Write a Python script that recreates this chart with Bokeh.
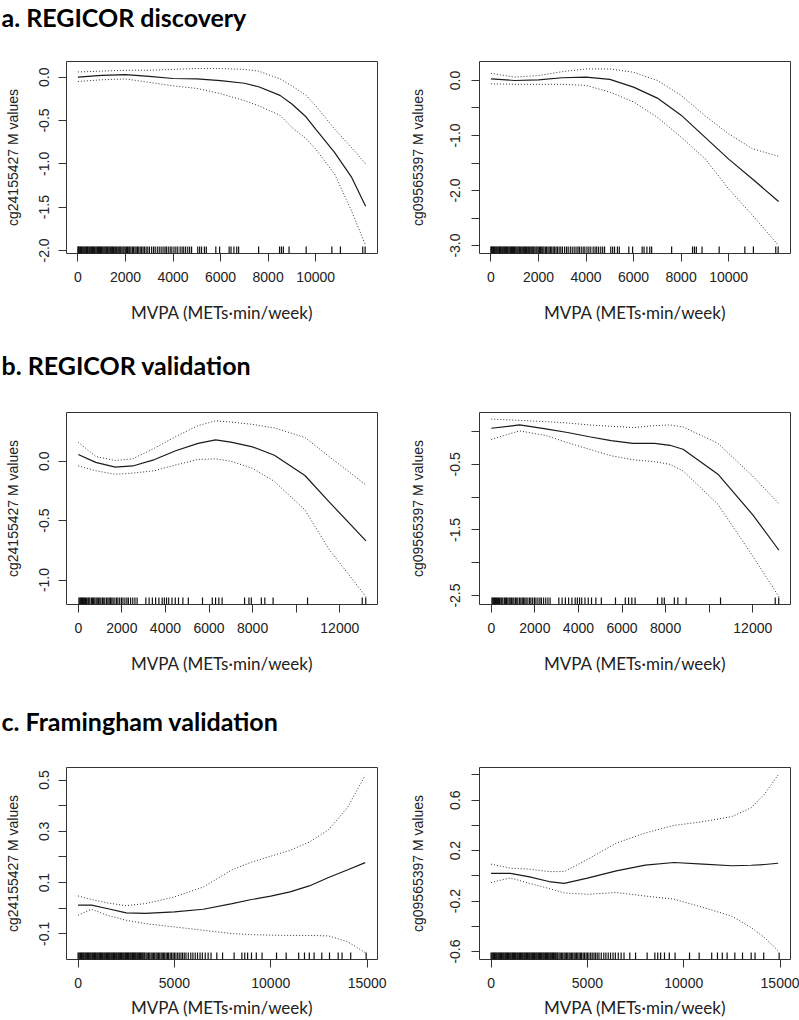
from bokeh.plotting import figure
from bokeh.layouts import column, row
from bokeh.models import FixedTicker, Range1d, ColumnDataSource
from bokeh.core.properties import value
from bokeh.embed import file_html
from bokeh.resources import INLINE

# ---------------- data ----------------
section_titles = ["a. REGICOR discovery", "b. REGICOR validation", "c. Framingham validation"]
x_label = "MVPA (METs\u00b7min/week)"
y_label_1 = "cg24155427 M values"
y_label_2 = "cg09565397 M values"

# a. REGICOR discovery, cg24155427
a1_x = [0, 1000, 2000, 3000, 4000, 5000, 6000, 7000, 7600, 8500, 9000, 9600, 10000, 10800, 11500, 12100]
a1_fit = [0.0, 0.02, 0.03, 0.01, -0.015, -0.02, -0.04, -0.07, -0.11, -0.21, -0.31, -0.46, -0.60, -0.87, -1.15, -1.49]
a1_hi = [0.06, 0.07, 0.08, 0.08, 0.09, 0.10, 0.10, 0.09, 0.07, -0.02, -0.10, -0.21, -0.33, -0.60, -0.81, -1.00]
a1_lo = [-0.05, -0.03, -0.02, -0.06, -0.10, -0.13, -0.19, -0.27, -0.33, -0.44, -0.58, -0.71, -0.83, -1.12, -1.54, -1.94]

# a. REGICOR discovery, cg09565397
a2_x = [0, 1000, 2000, 3000, 4000, 5000, 6000, 7000, 8000, 9000, 10000, 11000, 12100]
a2_fit = [0.03, 0.0, 0.01, 0.05, 0.06, 0.02, -0.12, -0.32, -0.63, -1.03, -1.43, -1.79, -2.20]
a2_hi = [0.13, 0.06, 0.09, 0.16, 0.21, 0.21, 0.15, 0.0, -0.27, -0.64, -0.97, -1.24, -1.38]
a2_lo = [-0.06, -0.07, -0.07, -0.07, -0.09, -0.21, -0.39, -0.67, -1.03, -1.42, -1.97, -2.45, -3.0]

# b. REGICOR validation, cg24155427
b1_x = [0, 800, 1700, 2500, 3500, 4500, 5500, 6300, 7000, 8000, 9000, 10400, 11500, 13200]
b1_fit = [0.056, -0.01, -0.05, -0.04, 0.014, 0.09, 0.15, 0.18, 0.16, 0.12, 0.05, -0.12, -0.34, -0.67]
b1_hi = [0.16, 0.04, 0.006, 0.02, 0.11, 0.21, 0.30, 0.34, 0.33, 0.31, 0.28, 0.20, 0.04, -0.20]
b1_lo = [-0.04, -0.08, -0.11, -0.10, -0.08, -0.03, 0.014, 0.02, 0.0, -0.06, -0.17, -0.41, -0.74, -1.14]

# b. REGICOR validation, cg09565397
b2_x = [0, 1300, 2500, 3500, 4500, 5500, 6500, 7500, 8200, 8800, 10400, 12000, 13200]
b2_fit = [0.05, 0.10, 0.04, -0.015, -0.08, -0.14, -0.18, -0.18, -0.21, -0.27, -0.65, -1.27, -1.81]
b2_hi = [0.19, 0.17, 0.15, 0.13, 0.10, 0.08, 0.06, 0.09, 0.10, 0.07, -0.18, -0.68, -1.10]
b2_lo = [-0.12, 0.01, -0.06, -0.17, -0.27, -0.37, -0.43, -0.46, -0.50, -0.60, -1.11, -1.90, -2.52]

# c. Framingham validation, cg24155427
c1_x = [0, 700, 1500, 2500, 3500, 5000, 6500, 8000, 9000, 10000, 11000, 12000, 13000, 14000, 14900]
c1_fit = [0.012, 0.012, -0.001, -0.018, -0.02, -0.014, -0.004, 0.018, 0.034, 0.047, 0.064, 0.087, 0.12, 0.15, 0.178]
c1_hi = [0.048, 0.034, 0.021, 0.010, 0.018, 0.044, 0.083, 0.150, 0.18, 0.203, 0.226, 0.258, 0.306, 0.395, 0.518]
c1_lo = [-0.027, -0.004, -0.027, -0.047, -0.06, -0.073, -0.086, -0.099, -0.103, -0.105, -0.106, -0.106, -0.108, -0.131, -0.173]

# c. Framingham validation, cg09565397
c2_x = [0, 1000, 2000, 3000, 3800, 5000, 6500, 8000, 9500, 11000, 12500, 13500, 14200, 14900]
c2_fit = [0.02, 0.02, -0.008, -0.045, -0.06, -0.018, 0.04, 0.085, 0.106, 0.093, 0.08, 0.084, 0.09, 0.10]
c2_hi = [0.093, 0.061, 0.053, 0.034, 0.034, 0.13, 0.26, 0.34, 0.40, 0.43, 0.47, 0.54, 0.65, 0.80]
c2_lo = [-0.053, -0.016, -0.06, -0.10, -0.135, -0.146, -0.132, -0.16, -0.185, -0.25, -0.32, -0.41, -0.49, -0.595]

# rug (observed MVPA values) per cohort
rug_a = [0, 20, 50, 80, 110, 150, 180, 220, 250, 290, 330, 360, 400, 430, 470, 500, 540, 580, 610, 650,
         690, 720, 760, 800, 830, 870, 910, 950, 990, 1020, 1060, 1100, 1140, 1180, 1210, 1250, 1300,
         1340, 1380, 1420, 1460, 1500, 1550, 1590, 1630, 1680, 1720, 1760, 1800, 1850, 1900, 1940, 1990,
         2040, 2090, 2140, 2180, 2230, 2290, 2340, 2400, 2450, 2510, 2560, 2620, 2680, 2740, 2800, 2870,
         2940, 3010, 3100, 3180, 3250, 3340, 3420, 3500, 3580, 3660, 3720, 3800, 3880, 3950, 4040, 4120,
         4200, 4300, 4380, 4450, 4530, 4620, 4700, 4780, 5040, 5120, 5200, 5320, 5400, 5800, 5960, 6360,
         6440, 6560, 6680, 6760, 7600, 8480, 8560, 8640, 8880, 9600, 10680, 11040, 11980, 12080]
rug_b = [30, 70, 110, 150, 190, 240, 280, 330, 380, 440, 480, 530, 600, 650, 700, 760, 820, 870, 930, 990,
         1040, 1110, 1170, 1220, 1300, 1360, 1420, 1480, 1540, 1600, 1680, 1760, 1820, 1900, 1980, 2050,
         2140, 2230, 2300, 2400, 2500, 2600, 2700, 3100, 3250, 3400, 3550, 3700, 3850, 3950, 4050, 4150,
         4300, 4450, 4600, 4800, 5050, 5700, 6150, 6300, 6450, 6600, 7630, 7830, 7940, 8400, 8560, 8940,
         10520, 13030, 13190]
rug_c = [0, 40, 90, 130, 180, 220, 270, 310, 360, 400, 450, 490, 540, 580, 630, 670, 720, 760, 810, 850,
         900, 940, 990, 1030, 1080, 1120, 1170, 1210, 1260, 1300, 1350, 1390, 1440, 1480, 1530, 1570, 1620,
         1660, 1710, 1750, 1800, 1840, 1890, 1930, 1980, 2020, 2070, 2110, 2160, 2200, 2250, 2290, 2340,
         2380, 2430, 2470, 2520, 2560, 2610, 2650, 2700, 2740, 2790, 2830, 2880, 2920, 2970, 3010, 3060,
         3100, 3150, 3190, 3240, 3280, 3330, 3370, 3420, 3460, 3530, 3590, 3660, 3720, 3790, 3850, 3920,
         3980, 4050, 4110, 4180, 4240, 4310, 4370, 4440, 4500, 4570, 4640, 4700, 4780, 4850, 4930, 5000,
         5080, 5170, 5250, 5340, 5420, 5510, 5600, 5720, 5850, 5960, 6080, 6200, 6330, 6450, 6600, 6750,
         6900, 7200, 7500, 8100, 8500, 8650, 8800, 9000, 9250, 9550, 10300, 10800, 11450, 11750, 12000,
         12250, 12650, 13050, 13500, 13700, 14150, 14950]

# axis ranges, ticks and tick labels
a_xrange = (-480, 12600)
b_xrange = (-540, 13730)
c_xrange = (-600, 15540)
a_xticks = [0, 2000, 4000, 6000, 8000, 10000]
a_xlabels = ["0", "2000", "4000", "6000", "8000", "10000"]
b_xticks = [0, 2000, 4000, 6000, 8000, 10000, 12000]
b_xlabels = ["0", "2000", "4000", "6000", "8000", "", "12000"]
c_xticks = [0, 5000, 10000, 15000]
c_xlabels = ["0", "5000", "10000", "15000"]

a1_yrange = (-2.035, 0.181)
a1_yticks = [-2.0, -1.5, -1.0, -0.5, 0.0]
a1_ylabels = ["-2.0", "-1.5", "-1.0", "-0.5", "0.0"]
a2_yrange = (-3.145, 0.345)
a2_yticks = [-3.0, -2.5, -2.0, -1.5, -1.0, -0.5, 0.0]
a2_ylabels = ["-3.0", "", "-2.0", "", "-1.0", "", "0.0"]
b1_yrange = (-1.206, 0.41)
b1_yticks = [-1.0, -0.5, 0.0]
b1_ylabels = ["-1.0", "-0.5", "0.0"]
b2_yrange = (-2.637, 0.29)
b2_yticks = [-2.5, -2.0, -1.5, -1.0, -0.5, 0.0]
b2_ylabels = ["-2.5", "", "-1.5", "", "-0.5", ""]
c1_yrange = (-0.2, 0.549)
c1_yticks = [-0.1, 0.0, 0.1, 0.2, 0.3, 0.4, 0.5]
c1_ylabels = ["-0.1", "", "0.1", "", "0.3", "", "0.5"]
c2_yrange = (-0.663, 0.859)
c2_yticks = [-0.6, -0.4, -0.2, 0.0, 0.2, 0.4, 0.6, 0.8]
c2_ylabels = ["-0.6", "", "-0.2", "", "0.2", "", "0.6", ""]

# ---------------- styling / layout ----------------
FRAME_H = 192
LINE = "#1a1a1a"


def heading(text, h, y_anchor):
    t = figure(width=799, height=h, output_backend="svg", toolbar_location=None,
               x_range=Range1d(0, 799), y_range=Range1d(0, h),
               x_axis_type=None, y_axis_type=None,
               min_border_left=0, min_border_right=0, min_border_top=0, min_border_bottom=0)
    t.outline_line_color = None
    t.grid.visible = False
    t.title.visible = False
    t.text(x=[1], y=[y_anchor], text=[text], text_font=value("Lato"),
           text_font_style="bold", text_font_size="25px", text_color="#000000",
           text_baseline="alphabetic", text_align="left")
    return t


def panel(xs, fit, hi, lo, rug, xr, yr, xticks, xlabels, yticks, ylabels, ylab,
          left_col, top, bottom, xlab_standoff):
    if left_col:
        bl, br, w, tick_so, lab_so = 66, 23, 400, 9, 16
    else:
        bl, br, w, tick_so, lab_so = 79, 9, 399, 11, 22
    h = top + FRAME_H + bottom
    p = figure(width=w, height=h, output_backend="svg", toolbar_location=None,
               x_range=Range1d(*xr), y_range=Range1d(*yr),
               min_border_left=bl, min_border_right=br, min_border_top=top,
               min_border_bottom=bottom)
    p.title.visible = False
    p.grid.visible = False
    p.outline_line_color = "#333333"
    p.outline_line_width = 1
    p.background_fill_color = "white"
    p.border_fill_color = "white"

    for ax, ticks, labels in ((p.xaxis[0], xticks, xlabels), (p.yaxis[0], yticks, ylabels)):
        ax.ticker = FixedTicker(ticks=ticks)
        ax.major_label_overrides = {t: l for t, l in zip(ticks, labels)}
        ax.minor_tick_line_color = None
        ax.major_tick_out = 8
        ax.major_tick_in = 0
        ax.major_tick_line_color = "#333333"
        ax.axis_line_color = None
        ax.major_label_text_font = "Liberation Sans"
        ax.major_label_text_font_size = "14px"
        ax.major_label_text_color = "#222222"
        ax.axis_label_text_font_style = "normal"
        ax.axis_label_text_color = "#222222"

    p.xaxis.major_label_standoff = 10
    p.xaxis.axis_label = x_label
    p.xaxis.axis_label_text_font = "Lato"
    p.xaxis.axis_label_text_font_size = "17px"
    p.xaxis.axis_label_standoff = xlab_standoff

    p.yaxis.major_label_standoff = tick_so
    p.yaxis.axis_label = ylab
    p.yaxis.axis_label_text_font = "Liberation Sans"
    p.yaxis.axis_label_text_font_size = "14px"
    p.yaxis.axis_label_standoff = lab_so
    p.yaxis.major_label_orientation = "vertical"

    src = ColumnDataSource(dict(x=xs, fit=fit, hi=hi, lo=lo))
    p.line("x", "fit", source=src, line_color=LINE, line_width=1.2)
    p.line("x", "hi", source=src, line_color="#333333", line_width=1, line_dash="1 2")
    p.line("x", "lo", source=src, line_color="#333333", line_width=1, line_dash="1 2")

    rug_len = (yr[1] - yr[0]) * 7.0 / FRAME_H
    rsrc = ColumnDataSource(dict(x=rug, y0=[yr[0]] * len(rug), y1=[yr[0] + rug_len] * len(rug)))
    p.segment(x0="x", y0="y0", x1="x", y1="y1", source=rsrc, line_color="#111111",
              line_width=1.2)
    return p


ha = heading(section_titles[0], 32, 16)
pa1 = panel(a1_x, a1_fit, a1_hi, a1_lo, rug_a, a_xrange, a1_yrange, a_xticks, a_xlabels,
            a1_yticks, a1_ylabels, y_label_1, True, 29, 87, 17)
pa2 = panel(a2_x, a2_fit, a2_hi, a2_lo, rug_a, a_xrange, a2_yrange, a_xticks, a_xlabels,
            a2_yticks, a2_ylabels, y_label_2, False, 29, 87, 17)
hb = heading(section_titles[1], 40, 16)
pb1 = panel(b1_x, b1_fit, b1_hi, b1_lo, rug_b, b_xrange, b1_yrange, b_xticks, b_xlabels,
            b1_yticks, b1_ylabels, y_label_1, True, 32, 96, 17)
pb2 = panel(b2_x, b2_fit, b2_hi, b2_lo, rug_b, b_xrange, b2_yrange, b_xticks, b_xlabels,
            b2_yticks, b2_ylabels, y_label_2, False, 32, 96, 17)
hc = heading(section_titles[2], 40, 20)
pc1 = panel(c1_x, c1_fit, c1_hi, c1_lo, rug_c, c_xrange, c1_yrange, c_xticks, c_xlabels,
            c1_yticks, c1_ylabels, y_label_1, True, 27, 61, 6)
pc2 = panel(c2_x, c2_fit, c2_hi, c2_lo, rug_c, c_xrange, c2_yrange, c_xticks, c_xlabels,
            c2_yticks, c2_ylabels, y_label_2, False, 27, 61, 6)

layout = column(ha, row(pa1, pa2), hb, row(pb1, pb2), hc, row(pc1, pc2))

with open("out.html", "w") as f:
    f.write(file_html(layout, INLINE))
